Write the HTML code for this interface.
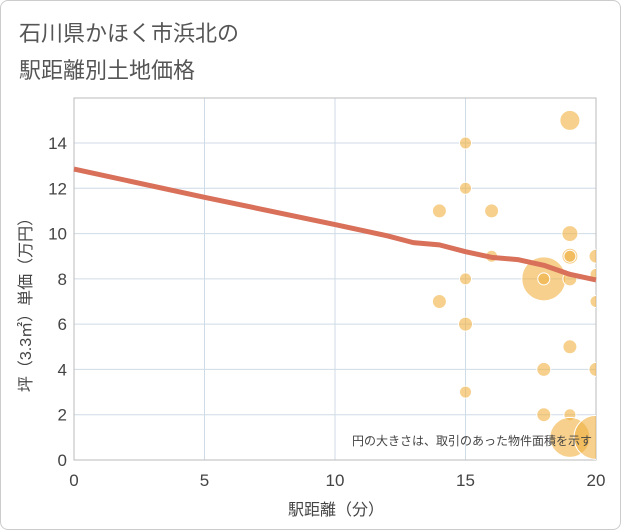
<!DOCTYPE html>
<html><head><meta charset="utf-8"><style>
body{margin:0;background:#fff;font-family:"Liberation Sans","Noto Sans CJK JP",sans-serif}
#wrap{position:relative;width:619px;height:528px;border:1px solid #ccc;border-radius:8px;overflow:hidden}
</style></head><body>
<div id="wrap">
<svg id="c" width="619" height="528" xmlns="http://www.w3.org/2000/svg">
<defs><clipPath id="pc"><rect x="73" y="97" width="522" height="362"/></clipPath></defs>
<text x="18" y="40" font-size="22" fill="#555">石川県かほく市浜北の</text>
<text x="18" y="77" font-size="22" fill="#555">駅距離別土地価格</text>
<g id="grid"></g><g id="pts" clip-path="url(#pc)"></g><g id="ln"></g><g id="ax"></g>
<text x="591" y="444" font-size="12" fill="#444" text-anchor="end">円の大きさは、取引のあった物件面積を示す</text>
<text x="335" y="514" font-size="16" fill="#444" text-anchor="middle">駅距離（分）</text>
<text transform="translate(30,300) rotate(-90)" font-size="16" fill="#444" text-anchor="middle">坪（3.3㎡）単価（万円）</text>
</svg></div>
<script>
const xTicks=[0,5,10,15,20];
const yTicks=[0,2,4,6,8,10,12,14];
const ptX=[14,14,15,15,15,15,15,16,16,18,18,18,18,19,19,19,19,19,19,19,19,20,20,20,20,20];
const ptY=[11,7,14,12,8,6,3,11,9,8,8,4,2,15,10,9,9,8,5,2,1,9,8.2,7,4,1];
const ptR=[7,7,6,6,6,7,6,7,6,22,6,7,7,10,8,8,6,7,7,6,20,7,6,6,7,22];
const lineX=[0,5,10,12,13,14,15,16,17,18,19,20];
const lineY=[12.85,11.6,10.4,9.9,9.6,9.5,9.2,8.95,8.85,8.6,8.2,7.95];
const X0=73,X1=595,Y0=459,Ytop=97;
const sx=v=>X0+(X1-X0)*v/20, sy=v=>Y0-(Y0-142)*v/14;
const NS="http://www.w3.org/2000/svg";
function mk(t,a,p){const e=document.createElementNS(NS,t);for(const k in a)e.setAttribute(k,a[k]);p.appendChild(e);return e;}
const g=document.getElementById('grid'),ax=document.getElementById('ax');
xTicks.forEach(v=>{const l=mk('line',{x1:sx(v),x2:sx(v),y1:Ytop,y2:Y0,stroke:'#cfdbe6'},g);

const t=mk('text',{x:sx(v),y:Y0+26,'font-size':17,fill:'#444','text-anchor':'middle'},ax);t.textContent=v;
});
yTicks.forEach(v=>{const l=mk('line',{x1:X0,x2:X1,y1:sy(v),y2:sy(v),stroke:'#cfdbe6'},g);

const t=mk('text',{x:X0-7,y:sy(v)+6,'font-size':17,fill:'#444','text-anchor':'end'},ax);t.textContent=v;
});
const b=mk('rect',{x:X0,y:Ytop,width:X1-X0,height:Y0-Ytop,fill:'none',stroke:'#bbb'},g);

const p=document.getElementById('pts');
ptX.forEach((x,i)=>{const c=mk('circle',{cx:sx(x),cy:sy(ptY[i]),r:ptR[i],fill:'#f0b040','fill-opacity':0.6,stroke:'#fff','stroke-width':1},p);
});
const path=mk('polyline',{points:lineX.map((x,i)=>sx(x)+','+sy(lineY[i])).join(' '),fill:'none',stroke:'#d9705a','stroke-width':5,'stroke-linejoin':'round'},document.getElementById('ln'));

</script></body></html>
